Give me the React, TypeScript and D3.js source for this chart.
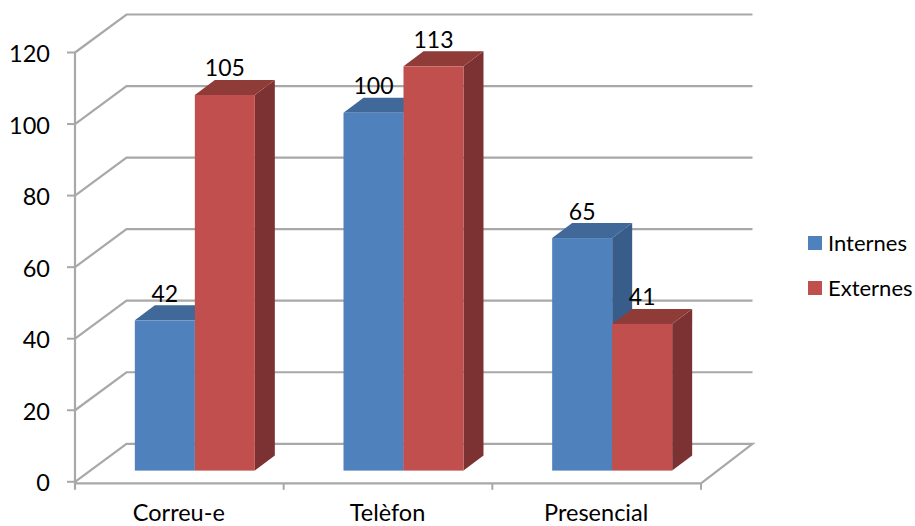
import React from "react";
import * as d3 from "d3";

const categories = ["Correu-e", "Telèfon", "Presencial"];
const internes = [42, 100, 65];
const externes = [105, 113, 41];
const yTicks = [0, 20, 40, 60, 80, 100, 120];

const W = 915, H = 526;
const y = d3.scaleLinear().domain([0, 120]).range([481.8, 52.5]);
const x = d3.scaleBand<string>().domain(categories).range([75, 701]);
const unit = (y(0) - y(120)) / 120;
const FONT = "Lato, Carlito, Calibri, sans-serif";
const GRID = "#a8a8a8";
const back = { dx: 51.5, dy: -38 };
const baseOff = { dx: 15.5, dy: -11.2 };
const depth = { dx: 20, dy: -15 };
const barW = 60;

const series = [
  { name: "Internes", values: internes, front: "#4f81bd", side: "#385d8a", top: "#3f6898", slot: 0 },
  { name: "Externes", values: externes, front: "#c0504d", side: "#7c3230", top: "#8f3b39", slot: 1 },
];

const path = (pts: [number, number][]) => d3.line()(pts) + "Z";

export default function App() {
  const baseY = y(0) + baseOff.dy;
  return (
    <svg width={W} height={H} style={{ position: "absolute", left: 0, top: 0, background: "#fff" }} fontFamily={FONT}>
      <defs>
        <filter id="soft" x="-5%" y="-5%" width="110%" height="110%">
          <feGaussianBlur stdDeviation="0.5" />
        </filter>
      </defs>
      <g filter="url(#soft)">
        {yTicks.map((t) => (
          <polyline
            key={t}
            fill="none"
            stroke={GRID}
            strokeWidth={2.2}
            points={
              t === 0
                ? `${x.range()[0]},${y(0)} ${x.range()[0] + back.dx},${y(0) + back.dy} ${x.range()[1] + back.dx},${y(0) + back.dy} ${x.range()[1]},${y(0) + 1.5} ${x.range()[0]},${y(0) + 1.5}`
                : `${x.range()[0]},${y(t)} ${x.range()[0] + back.dx},${y(t) + back.dy} ${x.range()[1] + back.dx},${y(t) + back.dy}`
            }
          />
        ))}
        <line x1={75} x2={75} y1={y(120)} y2={y(0) + 8} stroke={GRID} strokeWidth={2.2} />
        {yTicks.map((t) => (
          <line key={t} x1={67} x2={75} y1={y(t)} y2={y(t)} stroke={GRID} strokeWidth={2} />
        ))}
        {[...categories.map((c) => x(c)!), x.range()[1]].slice(1).map((v, i) => (
          <line key={i} x1={v} x2={v} y1={y(0) + 1.5} y2={y(0) + 8} stroke={GRID} strokeWidth={2} />
        ))}
        {categories.map((c, ci) =>
          series.map((s) => {
            const cx = x(c)! + x.bandwidth() / 2 + baseOff.dx;
            const x0 = cx - barW + s.slot * barW;
            const x1 = x0 + barW;
            const top = baseY - s.values[ci] * unit;
            return (
              <g key={c + s.name}>
                <path
                  d={path([[x1, top], [x1 + depth.dx, top + depth.dy], [x1 + depth.dx, baseY + depth.dy], [x1, baseY]])}
                  fill={s.side}
                />
                <path
                  d={path([[x0, top], [x0 + depth.dx, top + depth.dy], [x1 + depth.dx, top + depth.dy], [x1, top]])}
                  fill={s.top}
                />
                <rect x={x0} y={top} width={barW} height={baseY - top} fill={s.front} />
              </g>
            );
          })
        )}
      </g>
      {categories.map((c, ci) =>
        series.map((s) => {
          const cx = x(c)! + x.bandwidth() / 2 + baseOff.dx;
          const x0 = cx - barW + s.slot * barW;
          const top = baseY - s.values[ci] * unit;
          return (
            <text key={c + s.name} x={x0 + barW / 2} y={top - 18.5} textAnchor="middle" fontSize={23} fill="#000">
              {s.values[ci]}
            </text>
          );
        })
      )}
      {yTicks.map((t) => (
        <text key={t} x={50} y={y(t) + 9.5} textAnchor="end" fontSize={23.5} fill="#000">
          {t}
        </text>
      ))}
      {categories.map((c) => (
        <text key={c} x={x(c)! + x.bandwidth() / 2 - 0.5} y={520.5} textAnchor="middle" fontSize={23.5} fill="#000">
          {c}
        </text>
      ))}
      {series.map((s, i) => (
        <g key={s.name}>
          <rect x={808} y={236 + i * 45} width={14} height={14} fill={s.front} />
          <text x={828} y={250.5 + i * 45} fontSize={22} fill="#000">
            {s.name}
          </text>
        </g>
      ))}
    </svg>
  );
}
